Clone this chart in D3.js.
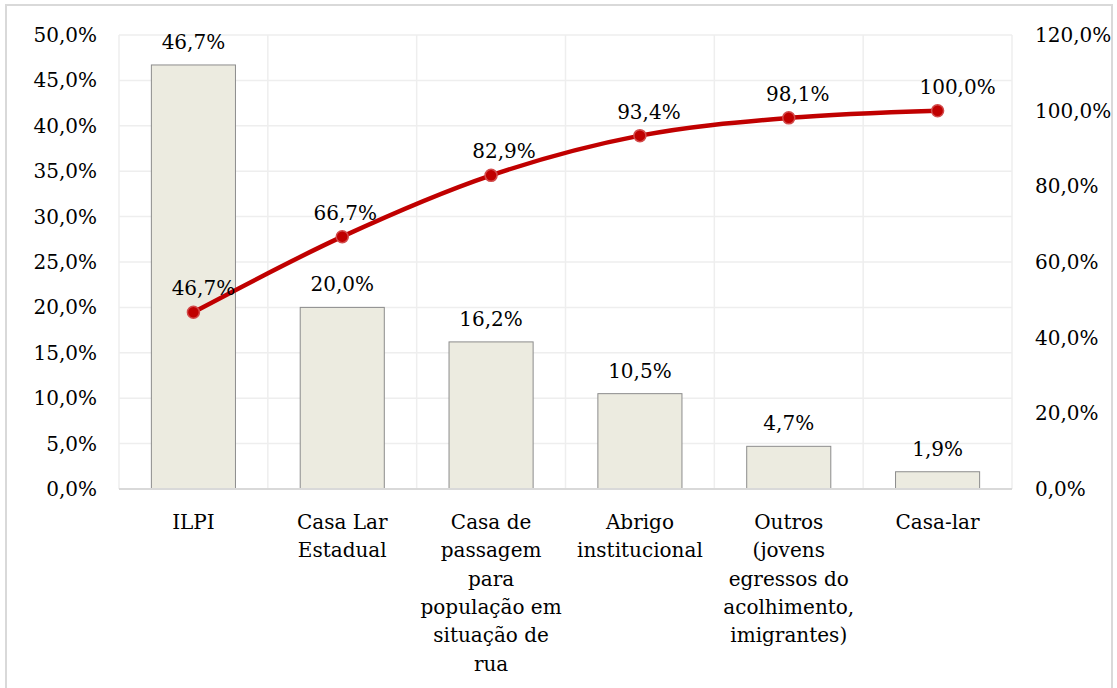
<!DOCTYPE html>
<html>
<head>
<meta charset="utf-8">
<script src="https://cdn.jsdelivr.net/npm/d3@7"></script>
<style>
  body { margin: 0; background: #fff; }
  text { font-family: "DejaVu Serif", serif; font-size: 20px; fill: #000; }
</style>
</head>
<body>
<svg width="1117" height="688"></svg>
<script>
// Categories and values (share, %)
const categories = [
  ["ILPI"],
  ["Casa Lar", "Estadual"],
  ["Casa de", "passagem", "para", "população em", "situação de", "rua"],
  ["Abrigo", "institucional"],
  ["Outros", "(jovens", "egressos do", "acolhimento,", "imigrantes)"],
  ["Casa-lar"],
];
const shares = [46.7, 20.0, 16.2, 10.5, 4.7, 1.9];
const cumulative = [46.7, 66.7, 82.9, 93.4, 98.1, 100.0];
const leftTicks = [0, 5, 10, 15, 20, 25, 30, 35, 40, 45, 50];
const rightTicks = [0, 20, 40, 60, 80, 100, 120];

// small horizontal nudges for the cumulative labels, as placed in the original
const lineLabelNudge = [10, 3, 13, 9, 9, 20];

const svg = d3.select("svg");
const fmt = v => v.toFixed(1).replace(".", ",") + "%";

const plotLeft = 119, plotRight = 1012, plotTop = 35, plotBottom = 489;

// outer frame
svg.append("rect")
  .attr("x", 6).attr("y", 5).attr("width", 1106).attr("height", 690)
  .attr("fill", "none").attr("stroke", "#d9d9d9").attr("stroke-width", 2);

const x = d3.scaleBand()
  .domain(d3.range(categories.length))
  .range([plotLeft, plotRight])
  .paddingInner(0.435).paddingOuter(0.2175);

const y = d3.scaleLinear().domain([0, 50]).range([plotBottom, plotTop]);
const y2 = d3.scaleLinear().domain([0, 120]).range([plotBottom, plotTop]);

// horizontal gridlines
svg.append("g")
  .selectAll("line")
  .data(leftTicks.slice(1))
  .join("line")
  .attr("x1", plotLeft).attr("x2", plotRight)
  .attr("y1", d => y(d)).attr("y2", d => y(d))
  .attr("stroke", "#eeeeee").attr("stroke-width", 1.5);

// vertical gridlines at category boundaries
const step = (plotRight - plotLeft) / categories.length;
svg.append("g")
  .selectAll("line")
  .data(d3.range(categories.length + 1))
  .join("line")
  .attr("x1", i => plotLeft + i * step).attr("x2", i => plotLeft + i * step)
  .attr("y1", plotTop).attr("y2", plotBottom)
  .attr("stroke", "#eeeeee").attr("stroke-width", 1.5);

// bars
svg.append("g")
  .selectAll("rect")
  .data(shares)
  .join("rect")
  .attr("x", (d, i) => x(i))
  .attr("y", d => y(d))
  .attr("width", x.bandwidth())
  .attr("height", d => plotBottom - y(d))
  .attr("fill", "#ecebe0")
  .attr("stroke", "#8c8c8c")
  .attr("stroke-width", 1);

// category axis line
svg.append("line")
  .attr("x1", plotLeft).attr("x2", plotRight)
  .attr("y1", plotBottom).attr("y2", plotBottom)
  .attr("stroke", "#d9d9d9").attr("stroke-width", 2);

// bar labels
svg.append("g")
  .selectAll("text")
  .data(shares)
  .join("text")
  .attr("x", (d, i) => x(i) + x.bandwidth() / 2)
  .attr("y", d => y(d) - 16)
  .attr("text-anchor", "middle")
  .text(fmt);

// left axis
const yAxis = svg.append("g")
  .attr("transform", `translate(${plotLeft},0)`)
  .call(d3.axisLeft(y).tickValues(leftTicks).tickFormat(fmt).tickSize(0).tickPadding(22));
yAxis.select(".domain").remove();

// right axis
const y2Axis = svg.append("g")
  .attr("transform", `translate(${plotRight},0)`)
  .call(d3.axisRight(y2).tickValues(rightTicks).tickFormat(fmt).tickSize(0).tickPadding(23));
y2Axis.select(".domain").remove();

svg.selectAll(".tick text").style("font-family", "DejaVu Serif").style("font-size", "20px").attr("fill", "#000");

// category labels
const catG = svg.append("g")
  .selectAll("text")
  .data(categories)
  .join("text")
  .attr("text-anchor", "middle")
  .attr("x", (d, i) => x(i) + x.bandwidth() / 2)
  .attr("y", 529);
catG.selectAll("tspan")
  .data(d => d)
  .join("tspan")
  .attr("x", function () { return this.parentNode.getAttribute("x"); })
  .attr("dy", (d, i) => i === 0 ? 0 : 28.3)
  .text(d => d);

// cumulative line
const cx = i => x(i) + x.bandwidth() / 2;
svg.append("path")
  .datum(cumulative)
  .attr("fill", "none")
  .attr("stroke", "#c00000")
  .attr("stroke-width", 4.5)
  .attr("stroke-linejoin", "round")
  .attr("d", d3.line().x((d, i) => cx(i)).y(d => y2(d)).curve(d3.curveMonotoneX));

svg.append("g")
  .selectAll("circle")
  .data(cumulative)
  .join("circle")
  .attr("cx", (d, i) => cx(i))
  .attr("cy", d => y2(d))
  .attr("r", 6)
  .attr("fill", "#c00000")
  .attr("stroke", "#d24a4a")
  .attr("stroke-width", 1.5);

svg.append("g")
  .selectAll("text")
  .data(cumulative)
  .join("text")
  .attr("x", (d, i) => cx(i) + lineLabelNudge[i])
  .attr("y", d => y2(d) - 17)
  .attr("text-anchor", "middle")
  .text(fmt);
</script>
</body>
</html>
